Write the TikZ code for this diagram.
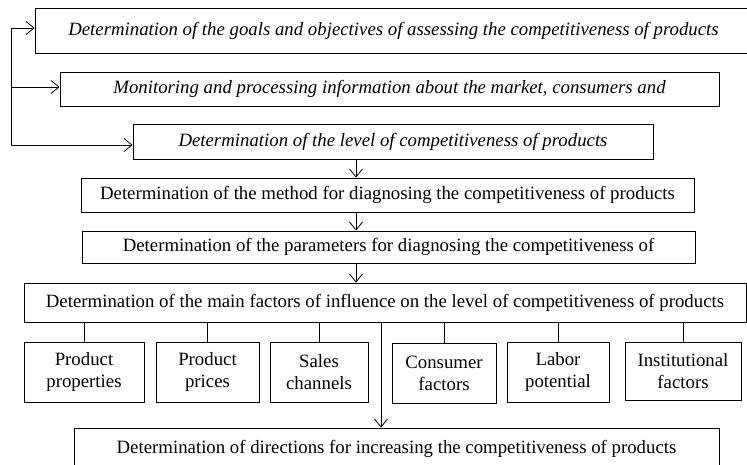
\documentclass[tikz,border=0pt]{standalone}
\usepackage{fontspec}
\setmainfont{Liberation Serif}
\usetikzlibrary{arrows.meta}

\tikzset{
  stagebox/.style={draw, thick, inner sep=0pt, align=center, font=\fontsize{18.8}{22}\selectfont},
  goalbox/.style={stagebox, font=\fontsize{18.8}{22}\selectfont\itshape},
  factorbox/.style={stagebox, minimum height=60pt},
  flow/.style={thick, -{Straight Barb[length=8pt,width=13pt]}},
  tie/.style={thick}
}

\begin{document}
\begin{tikzpicture}[x=1pt, y=-1pt]
  \useasboundingbox (0,0) rectangle (747,464);
  \clip (0,0) rectangle (747,464); % box 1 and the last box run past the edge

  % upper stages
  \node[goalbox, minimum width=717pt, minimum height=45pt] (goals) at (393.5,30.5)
    {Determination of the goals and objectives of assessing the competitiveness of products};
  \node[goalbox, minimum width=659pt, minimum height=34pt] (monitor) at (389.5,89)
    {Monitoring and processing information about the market, consumers and};
  \node[goalbox, minimum width=520pt, minimum height=35pt] (level) at (393,141.5)
    {Determination of the level of competitiveness of products};

  % main chain
  \node[stagebox, minimum width=613pt, minimum height=34pt] (method) at (387.5,195)
    {Determination of the method for diagnosing the competitiveness of products};
  \node[stagebox, minimum width=613pt, minimum height=32pt] (params) at (388.5,247)
    {Determination of the parameters for diagnosing the competitiveness of};
  \node[stagebox, minimum width=722pt, minimum height=39pt] (factors) at (385,302.5)
    {Determination of the main factors of influence on the level of competitiveness of products};
  \node[stagebox, minimum width=645pt, minimum height=42pt] (directions) at (396.5,449)
    {Determination of directions for increasing the competitiveness of products};

  % factor boxes
  \node[factorbox, minimum width=120pt] (fprop) at (84,372)  {Product\\properties};
  \node[factorbox, minimum width=103pt] (fprice) at (207.5,372) {Product\\prices};
  \node[factorbox, minimum width=98pt]  (fsales) at (319,372) {Sales\\channels};
  \node[factorbox, minimum width=104pt] (fcons) at (444,373) {Consumer\\factors};
  \node[factorbox, minimum width=102pt] (flabor) at (558,372) {Labor\\potential};
  \node[factorbox, minimum width=116pt, minimum height=58pt] (finst) at (683,371) {Institutional\\factors};

  \foreach \f in {fprop,fprice,fsales,fcons,flabor,finst}{
      \draw[tie] (\f.north) -- (\f.north |- factors.south);
    }

  % feedback line on the left
  \coordinate (fbA) at (11,28);
  \coordinate (fbB) at (11,87);
  \coordinate (fbC) at (11,145);
  \draw[tie] (fbA) -- (fbC);
  \draw[flow] (fbA) -- (goals.west |- fbA);
  \draw[flow] (fbB) -- (monitor.west |- fbB);
  \draw[flow] (fbC) -- (level.west |- fbC);

  % arrows down the chain
  \coordinate (spine) at (356,0);
  \draw[flow] (spine |- level.south) -- (spine |- method.north);
  \draw[flow] (spine |- method.south) -- (spine |- params.north);
  \draw[flow] (spine |- params.south) -- (spine |- factors.north);
  \coordinate (drop) at (381,0);
  \draw[flow] (drop |- factors.south) -- (drop |- directions.north);
\end{tikzpicture}
\end{document}
